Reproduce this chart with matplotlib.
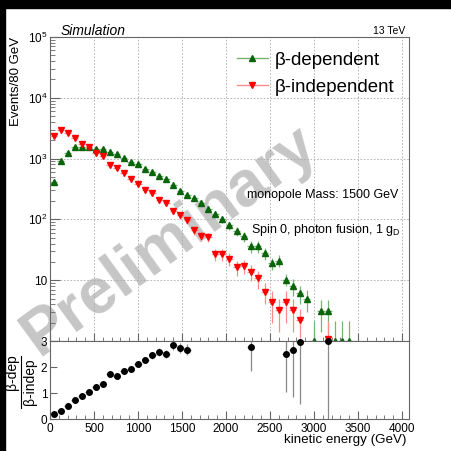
import matplotlib.pyplot as plt
import numpy as np
from matplotlib.lines import Line2D
from matplotlib.patches import Rectangle
from matplotlib.ticker import FixedLocator, FixedFormatter, NullFormatter

plt.rcParams['font.family'] = ['Liberation Sans', 'DejaVu Sans']
plt.rcParams['mathtext.fontset'] = 'custom'
plt.rcParams['mathtext.rm'] = 'Liberation Sans'
plt.rcParams['mathtext.it'] = 'Liberation Sans:italic'
plt.rcParams['mathtext.bf'] = 'Liberation Sans:bold'

# --- Data: 80 GeV bins, bin centres in GeV ---
energy = [40, 120, 200, 280, 360, 440, 520, 600, 680, 760,
          840, 920, 1000, 1080, 1160, 1240, 1320, 1400, 1480, 1560,
          1640, 1720, 1800, 1880, 1960, 2040, 2120, 2200, 2280, 2360,
          2440, 2520, 2600, 2680, 2760, 2840, 2920, 3000, 3080, 3160,
          3240, 3320, 3400]
half_bin = 40

nan = np.nan
beta_dep = [415, 927, 1254, 1530, 1550, 1560, 1440, 1420, 1300, 1175,
            1010, 883, 807, 677, 608, 512, 465, 371, 295, 254,
            221, 183, 150, 124, 101, 80, 64, 53, 36, 36.5,
            27.7, 19, 21, 10.2, 8.0, 6.1, 5.0, 1, 3.1, 3.1,
            1, 1, 1]
beta_dep_err = [30, 45, 50, 55, 55, 55, 52, 52, 50, 47,
                44, 41, 39, 36, 34, 31, 30, 27, 24, 22,
                21, 19, 17, 15, 14, 12, 11, 10, 8, 8,
                6, 4.5, 4.5, 2.3, 2.4, 2.0, 2.0, 1.1, 1.7, 1.7,
                1.1, 1.1, 1.1]

beta_indep = [2380, 2910, 2640, 2180, 1760, 1580, 1240, 1090, 797, 703,
              582, 470, 389, 310, 267, 207, 183, 135, 116, 97,
              66, 53, 51, 27, 27, 22.5, 16.3, 17.2, 13.7, 10.7,
              6.5, 4.3, 3.2, 4.3, 3.2, 2.2, nan, nan, nan, 1.07,
              nan, nan, nan]
beta_indep_err = [60, 70, 65, 60, 55, 50, 45, 42, 36, 34,
                  31, 28, 25, 22, 20, 18, 17, 14, 13, 12,
                  10, 9, 9, 6, 6, 5.5, 4.5, 4.5, 4, 3.5,
                  2.5, 2.3, 1.8, 2.3, 1.8, 1.1, nan, nan, nan, 1.1,
                  nan, nan, nan]

ratio = [0.18, 0.31, 0.50, 0.73, 0.88, 1.05, 1.22, 1.36, 1.72, 1.67,
         1.85, 1.94, 2.12, 2.26, 2.45, 2.58, 2.49, 2.85, 2.72, 2.67,
         nan, nan, nan, nan, nan, nan, nan, nan, 2.76, nan,
         nan, nan, nan, 2.49, 2.65, 2.97, nan, nan, nan, 3.0,
         nan, nan, nan]
ratio_err = [0.01, 0.015, 0.02, 0.03, 0.035, 0.04, 0.05, 0.055, 0.07, 0.07,
             0.08, 0.09, 0.10, 0.11, 0.13, 0.15, 0.16, 0.19, 0.20, 0.22,
             nan, nan, nan, nan, nan, nan, nan, nan, 0.9, nan,
             nan, nan, nan, 1.47, 1.8, 2.4, nan, nan, nan, 3.0,
             nan, nan, nan]

xmax = 4080

# --- colours ---
green_mk = '#0a640a'
green_ln = '#72b672'
red_mk = '#ff0000'
red_ln = '#ff8a8a'
frame = '#666666'

W = 451.0


def fx(x):
    return x / W


def fy(y):
    return 1 - y / W


fig = plt.figure(figsize=(4.51, 4.51), dpi=100)
fig.patch.set_facecolor('white')

# black borders of the original canvas
fig.add_artist(Rectangle((0, fy(8)), 1, 8 / W, transform=fig.transFigure,
                         color='black', zorder=10))
fig.add_artist(Rectangle((0, 0), 5 / W, 1, transform=fig.transFigure,
                         color='black', zorder=10))

# --- upper pad ---
ax1 = fig.add_axes([fx(50), fy(341), (409 - 50) / W, (341 - 37) / W])
ax1.set_yscale('log')
ax1.set_xlim(0, xmax)
ax1.set_ylim(1, 1e5)

ax1.errorbar(energy, beta_dep, yerr=beta_dep_err, xerr=half_bin, fmt='^',
             color=green_mk, ecolor=green_ln, ms=4.5, elinewidth=0.9, capsize=0, zorder=4)
ax1.errorbar(energy, beta_indep, yerr=beta_indep_err, xerr=half_bin, fmt='v',
             color=red_mk, ecolor=red_ln, ms=4.5, elinewidth=0.9, capsize=0, zorder=4)

ax1.xaxis.set_major_locator(FixedLocator(np.arange(0, 4001, 500)))
ax1.xaxis.set_minor_locator(FixedLocator(np.arange(0, 4081, 100)))
ax1.xaxis.set_major_formatter(NullFormatter())
ax1.yaxis.set_major_locator(FixedLocator([1, 10, 1e2, 1e3, 1e4, 1e5]))
ax1.yaxis.set_major_formatter(FixedFormatter(['', '10', '$10^{2}$', '$10^{3}$',
                                              '$10^{4}$', '$10^{5}$']))
minors = [m * 10 ** d for d in range(0, 5) for m in range(2, 10)]
ax1.yaxis.set_minor_locator(FixedLocator(minors))
ax1.yaxis.set_minor_formatter(NullFormatter())
ax1.grid(True, which='major', color='#aaaaaa', linestyle=(0, (2, 2)), lw=0.6)
ax1.tick_params(which='both', direction='in', colors=frame, labelcolor='black',
                labelsize=8.5, pad=2)
ax1.tick_params(axis='y', which='major', length=7)
ax1.tick_params(axis='y', which='minor', length=3.5)
ax1.tick_params(axis='x', which='major', length=6)
ax1.tick_params(axis='x', which='minor', length=3)
for s in ax1.spines.values():
    s.set_color(frame)
    s.set_linewidth(0.8)

# watermark
ax1.text(0.335, 0.33, 'Preliminary', transform=ax1.transAxes, rotation=36,
         ha='center', va='center', fontsize=46, fontweight='bold',
         color='#c6c6c6', zorder=1.5)

# --- lower pad ---
ax2 = fig.add_axes([fx(50), fy(419), (409 - 50) / W, (419 - 341) / W])
ax2.set_xlim(0, xmax)
ax2.set_ylim(0, 3)
ax2.errorbar(energy, ratio, yerr=ratio_err, xerr=half_bin, fmt='none',
             ecolor='#888888', elinewidth=0.9, capsize=0)
ax2.plot(energy, ratio, 'o', color='black', ms=4, clip_on=False, zorder=5)
ax2.xaxis.set_major_locator(FixedLocator(np.arange(0, 4001, 500)))
ax2.xaxis.set_minor_locator(FixedLocator(np.arange(0, 4081, 100)))
ax2.yaxis.set_major_locator(FixedLocator([0, 1, 2, 3]))
ax2.tick_params(which='both', direction='in', colors=frame, labelcolor='black',
                labelsize=8.5)
ax2.tick_params(axis='x', which='major', length=6, pad=3)
ax2.tick_params(axis='x', which='minor', length=3)
ax2.tick_params(axis='y', which='major', length=5, pad=2)
for s in ax2.spines.values():
    s.set_color(frame)
    s.set_linewidth(0.8)

# --- axis titles ---
fig.text(fx(16), fy(37), 'Events/80 GeV', rotation=90, ha='center', va='top',
         fontsize=9.5)
fig.text(fx(407), fy(443), 'kinetic energy (GeV)', ha='right', va='baseline',
         fontsize=9.6)
fig.text(fx(12), fy(372), 'β-dep', rotation=90, ha='center', va='center',
         fontsize=10)
fig.text(fx(30), fy(382), 'β-indep', rotation=90, ha='center', va='center',
         fontsize=10)
fig.add_artist(Line2D([fx(21), fx(21)], [fy(356), fy(408)], color='black', lw=0.8))

# --- labels ---
fig.text(fx(61), fy(35), 'Simulation', style='italic', fontsize=10, va='baseline')
fig.text(fx(405), fy(34), '13 TeV', ha='right', fontsize=7.5, va='baseline')
fig.text(fx(247), fy(198), 'monopole Mass: 1500 GeV', fontsize=9, va='baseline')
fig.text(fx(251), fy(233), r'Spin 0, photon fusion, 1 g$_{\mathrm{D}}$',
         fontsize=9, va='baseline')

# --- legend ---
for yl, yb, lab, mk, lc, m in [(58, 65, 'β-dependent', green_mk, green_ln, '^'),
                               (85, 92, 'β-independent', red_mk, red_ln, 'v')]:
    fig.add_artist(Line2D([fx(237), fx(268)], [fy(yl), fy(yl)], color=lc, lw=1))
    fig.add_artist(Line2D([fx(252.5)], [fy(yl)], marker=m, color=mk, ms=4.5, lw=0))
    fig.text(fx(275), fy(yb), lab, fontsize=13.4, va='baseline')

fig.savefig('out.png', dpi=100)
